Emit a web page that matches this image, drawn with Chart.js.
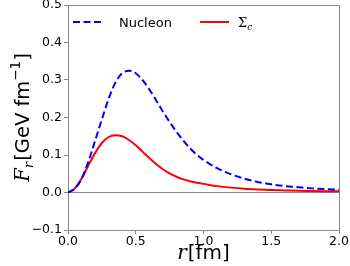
<!DOCTYPE html>
<html>
<head>
<meta charset="utf-8">
<script src="https://cdn.jsdelivr.net/npm/chart.js@4/dist/chart.umd.min.js"></script>
<style>
  html, body { margin: 0; padding: 0; background: #fff; }
  canvas { display: block; }
</style>
</head>
<body>
<canvas id="c" width="350" height="266"></canvas>
<script>
// ---- data ----
const rValues = [0, 0.05, 0.10, 0.15, 0.20, 0.25, 0.30, 0.35, 0.40, 0.45, 0.50, 0.55, 0.60, 0.65, 0.70, 0.75, 0.80, 0.85, 0.90, 0.95, 1.00, 1.1, 1.2, 1.3, 1.4, 1.5, 1.6, 1.7, 1.8, 1.9, 2.0];
const nucleonValues = [0.000, 0.010, 0.036, 0.082, 0.138, 0.195, 0.250, 0.293, 0.318, 0.325, 0.318, 0.300, 0.275, 0.246, 0.216, 0.188, 0.162, 0.139, 0.118, 0.101, 0.087, 0.065, 0.049, 0.037, 0.028, 0.022, 0.017, 0.014, 0.011, 0.009, 0.008];
const sigmaCValues = [0.000, 0.011, 0.037, 0.072, 0.105, 0.132, 0.148, 0.153, 0.150, 0.140, 0.126, 0.109, 0.092, 0.076, 0.062, 0.051, 0.042, 0.035, 0.030, 0.026, 0.023, 0.017, 0.013, 0.010, 0.008, 0.0065, 0.0055, 0.0045, 0.004, 0.0035, 0.003];
const seriesNames = ['Nucleon', 'Σc'];
const xTicks = [0, 0.5, 1.0, 1.5, 2.0];
const yTicks = [-0.1, 0.0, 0.1, 0.2, 0.3, 0.4, 0.5];

const AXIS_GRAY = '#888888';
const SANS = '"DejaVu Sans", sans-serif';
const SERIF = '"DejaVu Serif", "Liberation Serif", serif';

const toPoints = vals => rValues.map((r, i) => ({ x: r, y: vals[i] }));

function drawPieces(ctx, pieces, startX, baseY) {
  let x = startX;
  for (const p of pieces) {
    ctx.font = p.font;
    ctx.fillText(p.text, x, baseY + (p.dy || 0));
    x += ctx.measureText(p.text).width + (p.gap || 0);
  }
  return x;
}
function measurePieces(ctx, pieces) {
  let w = 0;
  for (const p of pieces) { ctx.font = p.font; w += ctx.measureText(p.text).width + (p.gap || 0); }
  return w;
}

const decorPlugin = {
  id: 'decor',
  afterDatasetsDraw(chart) {
    const ctx = chart.ctx;
    const a = chart.chartArea;
    ctx.save();
    ctx.strokeStyle = AXIS_GRAY;
    ctx.lineWidth = 1;
    ctx.beginPath();
    ctx.moveTo(a.left, a.top + 0.5);
    ctx.lineTo(a.right + 0.5, a.top + 0.5);
    ctx.lineTo(a.right + 0.5, a.bottom);
    ctx.stroke();

    // legend
    const ly = 22;
    const ds = chart.data.datasets;
    ctx.lineWidth = 2;
    ctx.strokeStyle = ds[0].borderColor;
    ctx.setLineDash(ds[0].borderDash);
    ctx.beginPath(); ctx.moveTo(73, ly); ctx.lineTo(104, ly); ctx.stroke();
    ctx.setLineDash([]);
    ctx.strokeStyle = ds[1].borderColor;
    ctx.beginPath(); ctx.moveTo(200, ly); ctx.lineTo(229, ly); ctx.stroke();
    ctx.fillStyle = '#000';
    ctx.textBaseline = 'alphabetic';
    ctx.textAlign = 'left';
    ctx.font = '13px ' + SANS;
    ctx.fillText(seriesNames[0], 119, ly + 5);
    drawPieces(ctx, [
      { text: 'Σ', font: '13px ' + SERIF },
      { text: 'c', font: 'italic 9px ' + SERIF, dy: 3 }
    ], 238, ly + 5);

    // x axis title
    const xPieces = [
      { text: 'r', font: 'italic 20px ' + SERIF, gap: 1 },
      { text: '[fm]', font: '20px ' + SANS }
    ];
    const xw = measurePieces(ctx, xPieces);
    drawPieces(ctx, xPieces, (a.left + a.right) / 2 - xw / 2, 259);

    // y axis title
    const yPieces = [
      { text: 'F', font: 'italic 19.5px ' + SERIF },
      { text: 'r', font: 'italic 13.5px ' + SERIF, dy: 4, gap: 1 },
      { text: '[GeV fm', font: '19.5px ' + SANS },
      { text: '−1', font: '13.5px ' + SANS, dy: -9 },
      { text: ']', font: '19.5px ' + SANS }
    ];
    const yw = measurePieces(ctx, yPieces);
    ctx.translate(29, (a.top + a.bottom) / 2);
    ctx.rotate(-Math.PI / 2);
    drawPieces(ctx, yPieces, -yw / 2, 0);
    ctx.restore();
  }
};

const fmt = v => (v < -1e-9 ? '\u2212' : '') + Math.abs(v).toFixed(1);

new Chart(document.getElementById('c'), {
  type: 'line',
  data: {
    datasets: [
      {
        label: seriesNames[0],
        data: toPoints(nucleonValues),
        borderColor: '#0000ff',
        borderWidth: 2,
        borderDash: [7, 3.5],
        pointRadius: 0,
        fill: false,
        cubicInterpolationMode: 'monotone'
      },
      {
        label: seriesNames[1],
        data: toPoints(sigmaCValues),
        borderColor: '#ff0000',
        borderWidth: 2,
        pointRadius: 0,
        fill: false,
        cubicInterpolationMode: 'monotone'
      }
    ]
  },
  options: {
    responsive: false,
    animation: false,
    devicePixelRatio: 1,
    layout: { padding: { left: 0, right: 11, top: 5, bottom: 0 } },
    plugins: { legend: { display: false }, tooltip: { enabled: false } },
    scales: {
      x: {
        type: 'linear',
        min: 0, max: 2,
        afterBuildTicks: s => { s.ticks = xTicks.map(v => ({ value: v })); },
        afterFit: s => { s.height = 36; s.paddingLeft = 0; s.paddingRight = 0; },
        ticks: {
          callback: v => fmt(v),
          font: { family: 'DejaVu Sans', size: 12.5 },
          color: '#000',
          padding: 0,
          maxRotation: 0,
          autoSkip: false
        },
        grid: { drawOnChartArea: false, tickLength: 4, tickColor: AXIS_GRAY, color: AXIS_GRAY },
        border: { display: true, color: AXIS_GRAY, width: 1 }
      },
      y: {
        type: 'linear',
        min: -0.1, max: 0.5,
        afterBuildTicks: s => { s.ticks = yTicks.map(v => ({ value: v })); },
        afterFit: s => { s.width = 68; s.paddingTop = 0; s.paddingBottom = 0; },
        ticks: {
          callback: v => fmt(v),
          font: { family: 'DejaVu Sans', size: 12.5 },
          color: '#000',
          padding: 2,
          autoSkip: false
        },
        grid: {
          drawOnChartArea: true,
          tickLength: 4,
          tickColor: AXIS_GRAY,
          color: c => (c.tick && Math.abs(c.tick.value) < 1e-9) ? AXIS_GRAY : 'rgba(0,0,0,0)',
          lineWidth: 1
        },
        border: { display: true, color: AXIS_GRAY, width: 1 }
      }
    }
  },
  plugins: [decorPlugin]
});
</script>
</body>
</html>
